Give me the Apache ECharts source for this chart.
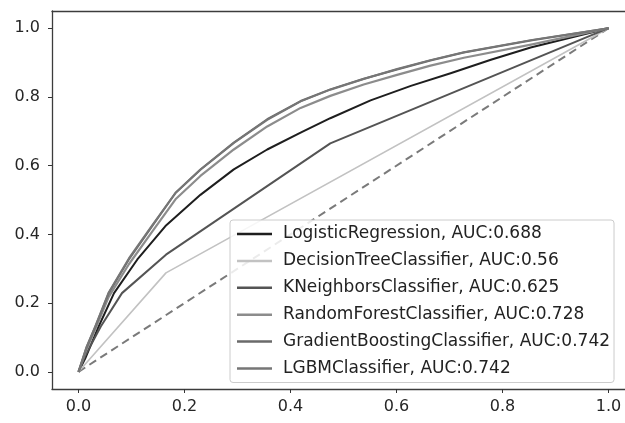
<!DOCTYPE html>
<html>
<head>
<meta charset="utf-8">
<script src="https://cdn.jsdelivr.net/npm/echarts@6/dist/echarts.min.js"></script>
<style>
  html, body { margin: 0; padding: 0; background: #ffffff; }
  #chart { width: 625px; height: 423px; }
</style>
</head>
<body>
<div id="chart"></div>
<script>
// ROC curves of six classifiers, with the chance diagonal
const modelNames = [
  'LogisticRegression',
  'DecisionTreeClassifier',
  'KNeighborsClassifier',
  'RandomForestClassifier',
  'GradientBoostingClassifier',
  'LGBMClassifier'
];
const aucLabels = ['0.688', '0.56', '0.625', '0.728', '0.742', '0.742'];

const lrFpr = [0, 0.013, 0.038, 0.067, 0.111, 0.164, 0.23, 0.293, 0.356, 0.419, 0.475, 0.551, 0.627, 0.702, 0.778, 0.853, 1];
const lrTpr = [0, 0.04, 0.132, 0.229, 0.327, 0.424, 0.515, 0.589, 0.647, 0.696, 0.738, 0.79, 0.832, 0.869, 0.908, 0.944, 1];

const dtFpr = [0, 0.165, 1];
const dtTpr = [0, 0.288, 1];

const knnFpr = [0, 0.012, 0.042, 0.082, 0.165, 0.475, 1];
const knnTpr = [0, 0.045, 0.132, 0.229, 0.341, 0.665, 1];

const rfFpr = [0, 0.015, 0.032, 0.057, 0.095, 0.139, 0.183, 0.23, 0.293, 0.356, 0.419, 0.475, 0.538, 0.601, 0.664, 0.727, 0.856, 1];
const rfTpr = [0, 0.065, 0.125, 0.218, 0.313, 0.408, 0.502, 0.57, 0.647, 0.714, 0.768, 0.803, 0.836, 0.864, 0.891, 0.914, 0.953, 1];

const gbFpr = [0, 0.015, 0.032, 0.057, 0.095, 0.139, 0.183, 0.23, 0.293, 0.356, 0.419, 0.475, 0.538, 0.601, 0.664, 0.727, 0.856, 1];
const gbTpr = [0, 0.07, 0.132, 0.229, 0.327, 0.424, 0.521, 0.589, 0.667, 0.735, 0.788, 0.822, 0.853, 0.88, 0.906, 0.929, 0.965, 1];

const lgbmFpr = [0, 0.015, 0.032, 0.057, 0.095, 0.139, 0.183, 0.23, 0.293, 0.356, 0.419, 0.475, 0.538, 0.601, 0.664, 0.727, 0.856, 1];
const lgbmTpr = [0, 0.072, 0.134, 0.231, 0.33, 0.426, 0.52, 0.588, 0.666, 0.733, 0.787, 0.821, 0.852, 0.881, 0.907, 0.93, 0.966, 1];

const chanceFpr = [0, 1];
const chanceTpr = [0, 1];

const tickValues = [0, 0.2, 0.4, 0.6, 0.8, 1.0];

const curveFpr = [lrFpr, dtFpr, knnFpr, rfFpr, gbFpr, lgbmFpr];
const curveTpr = [lrTpr, dtTpr, knnTpr, rfTpr, gbTpr, lgbmTpr];
const curveColors = ['#1e1e1e', '#c2c2c2', '#545454', '#8c8c8c', '#6a6a6a', '#767676'];
const curveWidths = [2, 1.6, 2, 2.2, 2, 2];

const pairs = (xs, ys) => xs.map((x, i) => [x, ys[i]]);
const FONT = 'DejaVu Sans';
const SPINE = { color: '#3c3c3c', width: 1.3 };

const series = [{
  name: 'chance',
  type: 'line',
  data: pairs(chanceFpr, chanceTpr),
  symbol: 'none',
  silent: true,
  lineStyle: { color: '#7a7a7a', width: 2, type: [8, 5] },
  z: 1
}];
modelNames.forEach((n, i) => {
  series.push({
    name: n + ', AUC:' + aucLabels[i],
    type: 'line',
    data: pairs(curveFpr[i], curveTpr[i]),
    symbol: 'none',
    smooth: false,
    lineStyle: { color: curveColors[i], width: curveWidths[i], join: 'round' },
    itemStyle: { color: curveColors[i] },
    z: 2 + i
  });
});

const tickStyle = {
  show: true, inside: false, length: 4,
  customValues: tickValues,
  lineStyle: { color: '#333333', width: 1 }
};
const labelStyle = {
  customValues: tickValues,
  formatter: v => v.toFixed(1),
  fontFamily: FONT,
  fontSize: 16,
  color: '#262626'
};

const chart = echarts.init(document.getElementById('chart'), null, { renderer: 'canvas' });
chart.setOption({
  animation: false,
  backgroundColor: '#ffffff',
  grid: { left: 52, top: 11, right: 0, bottom: 34 },
  xAxis: [{
    type: 'value', position: 'bottom',
    min: -0.05, max: 1.031,
    splitLine: { show: false },
    axisLine: { show: true, onZero: false, lineStyle: SPINE },
    axisTick: tickStyle,
    axisLabel: Object.assign({}, labelStyle, { margin: 10 })
  }, {
    // upper frame edge
    type: 'value', position: 'top',
    min: -0.05, max: 1.031,
    splitLine: { show: false },
    axisLine: { show: true, onZero: false, lineStyle: SPINE },
    axisTick: { show: false },
    axisLabel: { show: false }
  }],
  yAxis: {
    type: 'value',
    min: -0.05, max: 1.05,
    splitLine: { show: false },
    axisLine: { show: true, onZero: false, lineStyle: SPINE },
    axisTick: tickStyle,
    axisLabel: Object.assign({}, labelStyle, { margin: 12 })
  },
  legend: {
    data: series.slice(1).map(s => s.name),
    orient: 'vertical',
    left: 230,
    top: 220,
    icon: 'rect',
    itemWidth: 35,
    itemHeight: 2.5,
    itemGap: 6.9,
    padding: [4, 4, 4, 7],
    backgroundColor: 'rgba(255,255,255,0.85)',
    borderColor: '#cccccc',
    borderWidth: 1,
    borderRadius: 3,
    selectedMode: false,
    textStyle: {
      fontFamily: FONT,
      fontSize: 17,
      lineHeight: 20,
      color: '#222222',
      padding: [0, 0, 0, 6]
    }
  },
  series: series
});
</script>
</body>
</html>
